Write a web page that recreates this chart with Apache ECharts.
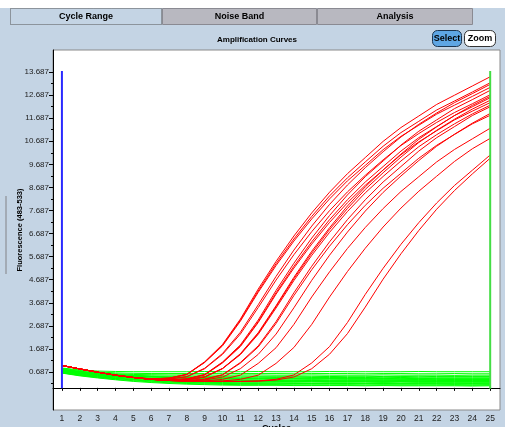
<!DOCTYPE html>
<html><head><meta charset="utf-8">
<script src="https://cdn.jsdelivr.net/npm/echarts@6/dist/echarts.min.js"></script>
<style>html,body{margin:0;padding:0;background:#c4d4e4;}#c{width:505px;height:427px;}</style>
</head><body><div id="c"></div>
<script>
const cycles = [1,2,3,4,5,6,7,8,9,10,11,12,13,14,15,16,17,18,19,20,21,22,23,24,25];
const xTickValues = [1,2,3,4,5,6,7,8,9,10,11,12,13,14,15,16,17,18,19,20,21,22,23,24,25];
const yTickValues = [0.687,1.687,2.687,3.687,4.687,5.687,6.687,7.687,8.687,9.687,10.687,11.687,12.687,13.687];
const yMinorTickValues = [0.187,1.187,2.187,3.187,4.187,5.187,6.187,7.187,8.187,9.187,10.187,11.187,12.187,13.187];
const tabLabels = ['Cycle Range','Noise Band','Analysis'];
const buttonLabels = ['Select','Zoom'];
const chartTitle = 'Amplification Curves';
const xName = 'Cycles';
const yName = 'Fluorescence (483-533)';
const markerCycles = [1, 25];
const markerSpan = [-0.02, 13.73];

const redCurves = [
 [0.97,0.82,0.68,0.55,0.45,0.39,0.42,0.59,1.13,1.88,2.98,4.28,5.48,6.58,7.58,8.48,9.28,9.98,10.68,11.28,11.78,12.28,12.68,13.08,13.48],
 [0.97,0.82,0.68,0.55,0.45,0.38,0.38,0.49,0.85,1.49,2.41,3.60,4.83,5.97,7.01,7.95,8.79,9.54,10.23,10.87,11.42,11.91,12.36,12.75,13.15],
 [0.97,0.82,0.68,0.55,0.45,0.39,0.42,0.58,1.10,1.82,2.89,4.14,5.30,6.36,7.32,8.19,8.97,9.64,10.32,10.90,11.38,11.86,12.25,12.63,13.02],
 [0.97,0.82,0.68,0.55,0.45,0.37,0.34,0.39,0.58,1.12,1.86,2.94,4.22,5.40,6.49,7.47,8.36,9.15,9.83,10.52,11.12,11.61,12.10,12.49,12.89],
 [0.97,0.82,0.68,0.55,0.45,0.38,0.38,0.48,0.83,1.45,2.33,3.48,4.67,5.77,6.77,7.68,8.49,9.21,9.88,10.50,11.02,11.50,11.93,12.31,12.70],
 [0.97,0.82,0.68,0.55,0.45,0.37,0.34,0.39,0.57,1.10,1.82,2.87,4.12,5.27,6.33,7.29,8.15,8.92,9.59,10.26,10.84,11.32,11.80,12.18,12.57],
 [0.97,0.82,0.68,0.55,0.45,0.37,0.33,0.35,0.47,0.84,1.46,2.36,3.52,4.73,5.84,6.86,7.77,8.60,9.32,10.00,10.63,11.16,11.64,12.08,12.46],
 [0.97,0.82,0.68,0.55,0.45,0.37,0.34,0.38,0.56,1.08,1.79,2.83,4.06,5.19,6.23,7.17,8.02,8.78,9.44,10.10,10.66,11.14,11.61,11.99,12.36],
 [0.97,0.82,0.68,0.55,0.45,0.37,0.33,0.35,0.47,0.83,1.44,2.32,3.46,4.65,5.74,6.74,7.64,8.45,9.16,9.83,10.45,10.97,11.44,11.87,12.25],
 [0.97,0.82,0.68,0.55,0.45,0.37,0.32,0.31,0.38,0.57,1.10,1.82,2.87,4.12,5.27,6.33,7.29,8.15,8.92,9.59,10.26,10.84,11.32,11.80,12.18],
 [0.97,0.82,0.68,0.55,0.45,0.37,0.32,0.30,0.34,0.47,0.83,1.45,2.33,3.47,4.66,5.75,6.75,7.66,8.47,9.18,9.85,10.47,10.99,11.47,11.89],
 [0.97,0.82,0.68,0.55,0.45,0.37,0.32,0.31,0.37,0.56,1.07,1.77,2.79,4.00,5.12,6.14,7.07,7.91,8.65,9.30,9.95,10.51,10.98,11.44,11.81],
 [0.97,0.82,0.68,0.55,0.45,0.37,0.32,0.29,0.30,0.37,0.55,1.06,1.74,2.75,3.94,5.03,6.04,6.95,7.77,8.51,9.15,9.79,10.33,10.79,11.25],
 [0.97,0.82,0.68,0.55,0.45,0.37,0.32,0.29,0.28,0.30,0.37,0.55,1.06,1.75,2.75,3.94,5.04,6.05,6.97,7.79,8.52,9.17,9.81,10.36,10.81],
 [0.97,0.82,0.68,0.55,0.45,0.37,0.32,0.29,0.28,0.28,0.28,0.30,0.37,0.56,1.08,1.79,2.83,4.05,5.18,6.22,7.16,8.01,8.77,9.43,10.09],
 [0.97,0.82,0.68,0.55,0.45,0.37,0.32,0.29,0.28,0.28,0.28,0.29,0.34,0.47,0.83,1.46,2.35,3.50,4.71,5.81,6.82,7.74,8.55,9.27,9.95],
 [0.97,0.82,0.68,0.55,0.45,0.39,0.42,0.58,1.11,1.85,2.93,4.20,5.38,6.45,7.43,8.32,9.10,9.79,10.47,11.06,11.55,12.04,12.43,12.82,13.22],
 [0.97,0.82,0.68,0.55,0.45,0.37,0.33,0.35,0.48,0.84,1.48,2.39,3.56,4.79,5.92,6.94,7.88,8.71,9.44,10.13,10.77,11.31,11.80,12.24,12.63]
];

const greenCurves = [
 [0.86,0.78,0.73,0.71,0.70,0.70,0.70,0.70,0.71,0.70,0.70,0.71,0.70,0.70,0.70,0.71,0.70,0.70,0.70,0.70,0.71,0.70,0.70,0.70,0.70],
 [0.84,0.75,0.69,0.65,0.63,0.62,0.62,0.62,0.62,0.63,0.62,0.62,0.62,0.61,0.62,0.62,0.62,0.61,0.62,0.62,0.61,0.61,0.62,0.61,0.61],
 [0.82,0.72,0.65,0.61,0.58,0.57,0.56,0.56,0.56,0.55,0.56,0.56,0.55,0.55,0.56,0.55,0.55,0.55,0.56,0.55,0.55,0.55,0.54,0.55,0.55],
 [0.80,0.70,0.62,0.57,0.54,0.52,0.51,0.51,0.50,0.50,0.51,0.50,0.50,0.50,0.50,0.49,0.50,0.50,0.49,0.49,0.50,0.49,0.49,0.49,0.49],
 [0.79,0.69,0.61,0.55,0.51,0.49,0.47,0.47,0.46,0.46,0.46,0.46,0.45,0.46,0.45,0.45,0.45,0.45,0.44,0.45,0.44,0.44,0.44,0.44,0.44],
 [0.77,0.69,0.63,0.58,0.54,0.50,0.47,0.45,0.44,0.43,0.42,0.42,0.42,0.41,0.42,0.41,0.41,0.41,0.41,0.40,0.41,0.40,0.40,0.40,0.40],
 [0.76,0.68,0.62,0.56,0.52,0.48,0.45,0.43,0.42,0.41,0.40,0.40,0.40,0.39,0.40,0.39,0.39,0.39,0.39,0.38,0.39,0.38,0.38,0.38,0.38],
 [0.75,0.67,0.60,0.55,0.50,0.47,0.44,0.41,0.40,0.39,0.38,0.38,0.38,0.38,0.37,0.38,0.37,0.37,0.37,0.37,0.36,0.37,0.36,0.36,0.36],
 [0.74,0.65,0.58,0.52,0.47,0.43,0.40,0.38,0.36,0.35,0.34,0.34,0.34,0.33,0.34,0.33,0.33,0.33,0.33,0.32,0.33,0.32,0.32,0.32,0.32],
 [0.73,0.64,0.57,0.50,0.46,0.41,0.38,0.36,0.34,0.33,0.32,0.32,0.32,0.31,0.32,0.31,0.31,0.31,0.31,0.30,0.31,0.30,0.30,0.30,0.30],
 [0.72,0.63,0.55,0.49,0.44,0.40,0.36,0.34,0.32,0.31,0.30,0.30,0.30,0.29,0.30,0.29,0.29,0.29,0.28,0.29,0.28,0.28,0.28,0.28,0.28],
 [0.71,0.62,0.53,0.47,0.42,0.38,0.34,0.32,0.30,0.29,0.28,0.28,0.28,0.27,0.28,0.27,0.27,0.27,0.26,0.27,0.26,0.26,0.26,0.26,0.26],
 [0.70,0.60,0.52,0.46,0.41,0.36,0.33,0.30,0.28,0.27,0.26,0.26,0.26,0.25,0.26,0.25,0.25,0.25,0.24,0.25,0.24,0.24,0.24,0.24,0.24],
 [0.68,0.58,0.50,0.43,0.37,0.33,0.29,0.26,0.24,0.23,0.22,0.22,0.22,0.21,0.21,0.21,0.21,0.20,0.21,0.20,0.20,0.20,0.20,0.19,0.20],
 [0.67,0.56,0.48,0.41,0.36,0.31,0.27,0.24,0.22,0.21,0.20,0.20,0.20,0.19,0.19,0.19,0.19,0.18,0.19,0.18,0.18,0.18,0.18,0.17,0.18],
 [0.66,0.55,0.47,0.40,0.34,0.29,0.25,0.22,0.20,0.19,0.18,0.18,0.17,0.17,0.17,0.17,0.16,0.17,0.16,0.16,0.16,0.16,0.15,0.16,0.15],
 [0.65,0.54,0.45,0.37,0.31,0.26,0.22,0.19,0.17,0.15,0.14,0.14,0.14,0.13,0.13,0.13,0.13,0.12,0.13,0.12,0.12,0.12,0.12,0.11,0.12],
 [0.64,0.52,0.43,0.35,0.28,0.23,0.19,0.16,0.14,0.12,0.11,0.11,0.11,0.10,0.10,0.10,0.10,0.09,0.10,0.09,0.09,0.09,0.09,0.08,0.09]
];

const SANS = "'Liberation Sans','DejaVu Sans',sans-serif";
const toPoints = vals => cycles.map((c, i) => [c, vals[i]]);

const series = [];
greenCurves.forEach(v => series.push({type:'line', data: toPoints(v), showSymbol:false, symbol:'none', silent:true,
  lineStyle:{color:'#00ff00', width:1}, z:2}));
redCurves.forEach(v => series.push({type:'line', data: toPoints(v), showSymbol:false, symbol:'none', silent:true,
  lineStyle:{color:'#ff0000', width:1}, z:3}));
series.push({type:'line', data:[[markerCycles[0], markerSpan[0]],[markerCycles[0], markerSpan[1]]], showSymbol:false, symbol:'none', silent:true,
  lineStyle:{color:'#2a2aff', width:2}, z:4});
series.push({type:'line', data:[[markerCycles[1], markerSpan[0]-0.02],[markerCycles[1], markerSpan[1]]], showSymbol:false, symbol:'none', silent:true,
  lineStyle:{color:'#44dd44', width:2}, z:4});

const tabX = [10, 162, 317, 473];
const graphic = [
  {type:'rect', shape:{x:0,y:0,width:505,height:8}, style:{fill:'#ffffff'}, silent:true},
  {type:'rect', shape:{x:10.5,y:8.5,width:151,height:16}, style:{fill:'#c4d4e4', stroke:'#555', lineWidth:1, lineDash:[1,1]}, silent:true},
  {type:'rect', shape:{x:162.5,y:8.5,width:154,height:16}, style:{fill:'#b8b8c0', stroke:'#8a8a92', lineWidth:1}, silent:true},
  {type:'rect', shape:{x:317.5,y:8.5,width:155,height:16}, style:{fill:'#b8b8c0', stroke:'#8a8a92', lineWidth:1}, silent:true},
  {type:'rect', shape:{x:5,y:196,width:2,height:78}, style:{fill:'#a3abb5'}, silent:true}
];
tabLabels.forEach((t, i) => graphic.push({type:'text', silent:true,
  style:{text:t, x:(tabX[i]+tabX[i+1])/2, y:17, align:'center', verticalAlign:'middle', fill:'#000', font:"bold 9px " + SANS}}));
graphic.push({type:'text', silent:true, style:{text:chartTitle, x:257, y:40, align:'center', verticalAlign:'middle', fill:'#000', font:"bold 8px " + SANS}});
graphic.push({type:'rect', shape:{x:432.5,y:30.5,width:29,height:16,r:5}, style:{fill:'#5ea6e4', stroke:'#1c3550', lineWidth:1}, silent:true});
graphic.push({type:'rect', shape:{x:464.5,y:30.5,width:31,height:16,r:5}, style:{fill:'#ffffff', stroke:'#333', lineWidth:1}, silent:true});
graphic.push({type:'text', silent:true, style:{text:buttonLabels[0], x:447, y:39, align:'center', verticalAlign:'middle', fill:'#000', font:"bold 9px " + SANS}});
graphic.push({type:'text', silent:true, style:{text:buttonLabels[1], x:480, y:39, align:'center', verticalAlign:'middle', fill:'#000', font:"bold 9px " + SANS}});

const yMin = -0.959, yMax = 14.64;
const option = {
  animation:false,
  backgroundColor:'#c4d4e4',
  grid:{left:53, top:50, right:5, bottom:17, show:true, containLabel:false, outerBoundsMode:'none',
        backgroundColor:'#ffffff', borderColor:'#8a8a8a', borderWidth:1},
  xAxis:{type:'value', min:0.5, max:25.55,
    axisLine:{show:true, lineStyle:{color:'#000'}}, splitLine:{show:false},
    axisTick:{show:true, length:3, customValues:xTickValues, lineStyle:{color:'#000'}},
    axisLabel:{customValues:xTickValues, formatter:v => String(v), fontSize:8.5, fontFamily:SANS, color:'#222', margin:4},
    name:xName, nameLocation:'middle', nameGap:14, nameMoveOverlap:false,
    nameTextStyle:{fontWeight:'bold', fontSize:9, fontFamily:SANS, color:'#000', verticalAlign:'top'}},
  yAxis:[
    {type:'value', min:yMin, max:yMax, position:'left',
     axisLine:{show:true, lineStyle:{color:'#000'}}, splitLine:{show:false},
     axisTick:{show:true, length:4, customValues:yTickValues, lineStyle:{color:'#000'}},
     axisLabel:{customValues:yTickValues, formatter:v => v.toFixed(3), fontSize:8, fontFamily:SANS, color:'#222', margin:4},
     name:yName, nameLocation:'middle', nameGap:29, nameMoveOverlap:false,
     nameTextStyle:{fontWeight:'bold', fontSize:7.5, fontFamily:SANS, color:'#000'}},
    {type:'value', min:yMin, max:yMax, position:'left',
     axisLine:{show:false}, splitLine:{show:false}, axisLabel:{show:false},
     axisTick:{show:true, length:2, customValues:yMinorTickValues, lineStyle:{color:'#000'}}}
  ],
  series:series,
  graphic:graphic
};
const chart = echarts.init(document.getElementById('c'), null, {renderer:'canvas'});
chart.setOption(option);
</script>
</body></html>
